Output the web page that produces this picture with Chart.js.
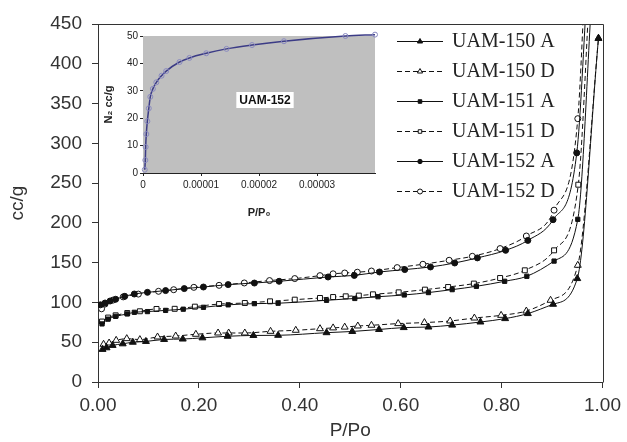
<!DOCTYPE html>
<html>
<head>
<meta charset="utf-8">
<script src="https://cdn.jsdelivr.net/npm/chart.js@4"></script>
<style>
html, body { margin: 0; padding: 0; background: #fff; }
#wrap { position: relative; width: 627px; height: 442px; }
#main { position: absolute; left: 0; top: 0; }
#inset { position: absolute; left: 100px; top: 28px; }
</style>
</head>
<body>
<div id="wrap">
  <canvas id="main" width="627" height="442"></canvas>
  <canvas id="inset" width="280" height="192"></canvas>
</div>
<script>
// isotherm data, P/Po vs cc/g
const p150A = [0.009, 0.017, 0.029, 0.049, 0.069, 0.095, 0.131, 0.168, 0.207, 0.257, 0.308, 0.357, 0.453, 0.504, 0.557, 0.606, 0.655, 0.702, 0.758, 0.807, 0.852, 0.902, 0.950, 0.992];
const v150A = [41, 43, 46, 48, 50, 51, 53.5, 54, 55.5, 57.5, 58.5, 58.7, 62, 63.5, 66, 68.4, 69.1, 71.5, 75.4, 79.7, 86, 97.7, 130, 432];

const p150D = [0.011, 0.022, 0.036, 0.057, 0.083, 0.118, 0.154, 0.194, 0.238, 0.259, 0.291, 0.342, 0.392, 0.44, 0.466, 0.489, 0.515, 0.542, 0.595, 0.647, 0.698, 0.746, 0.799, 0.849, 0.897, 0.951, 0.992];
const v150D = [47.4, 49, 52.4, 54.5, 53.3, 56.6, 57.8, 60, 61.6, 61.6, 61.6, 63.7, 65, 67, 68, 69, 70.4, 71.3, 73.4, 74.7, 76.7, 80.4, 83.8, 89.2, 102.7, 146.7, 432];

const p151A = [0.008, 0.02, 0.035, 0.058, 0.072, 0.098, 0.134, 0.169, 0.209, 0.258, 0.31, 0.357, 0.453, 0.509, 0.555, 0.607, 0.655, 0.702, 0.75, 0.806, 0.85, 0.904, 0.951, 0.98];
const v151A = [73, 79, 82.5, 85.5, 87.6, 88.5, 90, 91.5, 93.9, 97, 98.5, 99, 102.7, 105, 107.2, 109.4, 112.4, 116.1, 120.3, 126.6, 132.9, 152, 204.5, 500];

const p151D = [0.008, 0.02, 0.035, 0.058, 0.083, 0.116, 0.152, 0.192, 0.24, 0.291, 0.341, 0.39, 0.44, 0.466, 0.491, 0.517, 0.545, 0.596, 0.648, 0.694, 0.745, 0.797, 0.846, 0.904, 0.952, 0.975];
const v151D = [76, 81, 83.8, 86.7, 88.9, 91.8, 92, 94.7, 98, 99.3, 101.4, 103.5, 105.6, 106.8, 107.7, 108.6, 110.2, 112.7, 116.1, 119.4, 123.7, 130.7, 140.4, 165.5, 248, 500];

const p152A = [0.005, 0.014, 0.024, 0.035, 0.053, 0.072, 0.098, 0.134, 0.171, 0.209, 0.258, 0.31, 0.359, 0.456, 0.508, 0.558, 0.608, 0.659, 0.707, 0.752, 0.808, 0.852, 0.902, 0.949, 0.97];
const v152A = [97, 99.3, 101.8, 104, 107.7, 110.6, 112.7, 114.9, 117.4, 119.4, 122.4, 124.4, 126.6, 132, 134, 138.3, 141.3, 144.6, 149.6, 156, 165.5, 178, 204, 288, 500];

const p152D = [0.007, 0.014, 0.03, 0.05, 0.08, 0.12, 0.15, 0.19, 0.24, 0.29, 0.34, 0.39, 0.44, 0.466, 0.489, 0.514, 0.542, 0.593, 0.644, 0.696, 0.742, 0.797, 0.849, 0.904, 0.951, 0.965];
const v152D = [92, 98, 103, 107, 110.5, 114, 116, 119, 121.5, 124.5, 127.5, 130, 133.7, 136, 137, 138, 139.5, 143.8, 148, 153, 158, 167.7, 183.5, 216, 331, 500];

const seriesLabels = ['UAM-150 A', 'UAM-150 D', 'UAM-151 A', 'UAM-151 D', 'UAM-152 A', 'UAM-152 D'];
const xTicks = [0, 0.2, 0.4, 0.6, 0.8, 1.0];
const yTicks = [0, 50, 100, 150, 200, 250, 300, 350, 400, 450];

// inset: UAM-152 low pressure region
const insetP = [0.0000003, 0.0000004, 0.00000046, 0.00000057, 0.00000075, 0.000001, 0.00000126, 0.0000017, 0.0000023, 0.0000032, 0.000004, 0.0000063, 0.000008, 0.0000109, 0.0000144, 0.0000188, 0.0000243, 0.0000349, 0.00004];
const insetV = [1.2, 4.7, 9.5, 14.2, 18.9, 23.6, 27.8, 30.7, 33.1, 35.5, 37.2, 40.5, 42, 43.7, 45.3, 46.7, 48.1, 50, 50.5];
const insetXTicks = [0, 0.00001, 0.00002, 0.00003];

const sans = '"Liberation Sans", Arial, sans-serif';
const ink = '#222';

function pts(xs, ys) {
    return xs.map((x, i) => ({ x: x, y: ys[i] }));
}

function series(label, xs, ys, style, hollow, radius, legendRadius) {
    return {
        label: label,
        data: pts(xs, ys),
        borderColor: '#111',
        borderWidth: 1,
        borderDash: hollow ? [5, 3] : [],
        pointStyle: style,
        pointRadius: radius,
        pointBorderWidth: 1,
        pointBorderColor: '#111',
        pointBackgroundColor: hollow ? '#fff' : '#111',
        legendRadius: legendRadius,
        cubicInterpolationMode: 'monotone',
        fill: false,
    };
}

const legendPlugin = {
    id: 'sideLegend',
    afterDatasetsDraw(chart) {
        const ctx = chart.ctx;
        ctx.save();
        chart.data.datasets.forEach((ds, i) => {
            const y = 41 + i * 30;
            ctx.strokeStyle = '#111';
            ctx.lineWidth = 1;
            ctx.setLineDash(ds.borderDash);
            ctx.beginPath();
            ctx.moveTo(397, y + 0.5);
            ctx.lineTo(443, y + 0.5);
            ctx.stroke();
            ctx.setLineDash([]);
            ctx.fillStyle = ds.pointBackgroundColor;
            Chart.helpers.drawPoint(ctx, { pointStyle: ds.pointStyle, radius: ds.legendRadius, rotation: 0, borderWidth: 1 }, 420, y + 0.5);
            ctx.fillStyle = ink;
            ctx.font = '20px "Liberation Serif", "Times New Roman", serif';
            ctx.textBaseline = 'middle';
            ctx.fillText(ds.label, 452, y + 1);
        });
        ctx.restore();
    }
};

const framePlugin = {
    id: 'frame',
    afterDraw(chart) {
        const a = chart.chartArea;
        const ctx = chart.ctx;
        ctx.save();
        ctx.strokeStyle = '#333';
        ctx.lineWidth = 1;
        ctx.beginPath();
        ctx.moveTo(Math.round(a.left) + 0.5, Math.round(a.top) + 0.5);
        ctx.lineTo(Math.round(a.right) + 0.5, Math.round(a.top) + 0.5);
        ctx.lineTo(Math.round(a.right) + 0.5, Math.round(a.bottom) + 0.5);
        ctx.stroke();
        ctx.restore();
    }
};

new Chart(document.getElementById('main'), {
    type: 'line',
    data: {
        datasets: [
            series(seriesLabels[0], p150A, v150A, 'triangle', false, 4, 3),
            series(seriesLabels[1], p150D, v150D, 'triangle', true, 4, 3),
            series(seriesLabels[2], p151A, v151A, 'rect', false, 3, 2.5),
            series(seriesLabels[3], p151D, v151D, 'rect', true, 3.5, 2.5),
            series(seriesLabels[4], p152A, v152A, 'circle', false, 3, 2.2),
            series(seriesLabels[5], p152D, v152D, 'circle', true, 3, 2.5),
        ]
    },
    options: {
        responsive: false,
        animation: false,
        layout: { padding: { top: 24, right: 24, left: 0, bottom: 0 } },
        plugins: {
            legend: { display: false },
            tooltip: { enabled: false },
        },
        scales: {
            x: {
                type: 'linear',
                min: 0,
                max: 1,
                afterBuildTicks: (scale) => { scale.ticks = xTicks.map(v => ({ value: v })); },
                afterFit: (scale) => { scale.height = 60; },
                ticks: {
                    color: '#333',
                    font: { family: sans, size: 19 },
                    padding: 6,
                    maxRotation: 0,
                    callback: (v) => Number(v).toFixed(2),
                },
                grid: { drawOnChartArea: false, drawTicks: true, tickLength: 6, color: '#333' },
                border: { color: '#333', width: 1 },
                title: {
                    display: true,
                    text: 'P/Po',
                    color: '#333',
                    font: { family: sans, size: 19 },
                    padding: { top: 0, bottom: 0 },
                },
            },
            y: {
                min: 0,
                max: 450,
                afterBuildTicks: (scale) => { scale.ticks = yTicks.map(v => ({ value: v })); },
                afterFit: (scale) => { scale.width = 98; },
                ticks: {
                    color: '#333',
                    font: { family: sans, size: 19 },
                    padding: 10,
                },
                grid: { drawOnChartArea: false, drawTicks: true, tickLength: 6, color: '#333' },
                border: { color: '#333', width: 1 },
                title: {
                    display: true,
                    text: 'cc/g',
                    color: '#333',
                    font: { family: sans, size: 19 },
                    padding: { top: 6, bottom: 0 },
                },
            },
        },
    },
    plugins: [legendPlugin, framePlugin],
});

const insetBgPlugin = {
    id: 'insetBg',
    beforeDatasetsDraw(chart) {
        const a = chart.chartArea;
        const ctx = chart.ctx;
        ctx.save();
        ctx.fillStyle = '#bfbfbf';
        ctx.fillRect(a.left, a.top, a.right - a.left, a.bottom - a.top);
        ctx.restore();
    },
    afterDatasetsDraw(chart) {
        const ctx = chart.ctx;
        ctx.save();
        ctx.font = 'bold 12px ' + sans;
        const label = 'UAM-152';
        const w = ctx.measureText(label).width;
        const cx = 165, cy = 72;
        ctx.fillStyle = '#fff';
        ctx.fillRect(cx - w / 2 - 3, cy - 8, w + 6, 16);
        ctx.fillStyle = '#111';
        ctx.textAlign = 'center';
        ctx.textBaseline = 'middle';
        ctx.fillText(label, cx, cy + 1);
        ctx.restore();
    }
};

new Chart(document.getElementById('inset'), {
    type: 'line',
    data: {
        datasets: [{
            label: 'UAM-152',
            data: pts(insetP, insetV),
            borderColor: '#3b3b86',
            borderWidth: 1.5,
            pointStyle: 'circle',
            pointRadius: 2.5,
            pointBorderWidth: 1,
            pointBorderColor: '#8a8ac0',
            pointBackgroundColor: 'rgba(0,0,0,0)',
            cubicInterpolationMode: 'monotone',
            clip: false,
            fill: false,
        }]
    },
    options: {
        responsive: false,
        animation: false,
        layout: { padding: { top: 4, right: 5, left: 0, bottom: 0 } },
        plugins: {
            legend: { display: false },
            tooltip: { enabled: false },
        },
        scales: {
            x: {
                type: 'linear',
                min: 0,
                max: 0.00004,
                afterBuildTicks: (scale) => { scale.ticks = insetXTicks.map(v => ({ value: v })); },
                afterFit: (scale) => { scale.height = 47; },
                ticks: {
                    color: '#222',
                    font: { family: sans, size: 10 },
                    padding: 3,
                    maxRotation: 0,
                    callback: (v) => v === 0 ? '0' : Number(v).toFixed(5),
                },
                grid: { drawOnChartArea: false, drawTicks: true, tickLength: 3, color: '#222' },
                border: { color: '#222', width: 1 },
                title: {
                    display: true,
                    text: 'P/P₀',
                    color: '#222',
                    font: { family: sans, size: 11, weight: 'bold' },
                    padding: { top: 2, bottom: 0 },
                },
            },
            y: {
                min: 0,
                max: 50,
                ticks: {
                    stepSize: 10,
                    color: '#222',
                    font: { family: sans, size: 10 },
                    padding: 2,
                },
                afterFit: (scale) => { scale.width = 43; },
                grid: { drawOnChartArea: false, drawTicks: true, tickLength: 3, color: '#222' },
                border: { color: '#222', width: 1 },
                title: {
                    display: true,
                    text: 'N₂ cc/g',
                    color: '#222',
                    font: { family: sans, size: 11, weight: 'bold' },
                    padding: { top: 2, bottom: 0 },
                },
            },
        },
    },
    plugins: [insetBgPlugin],
});
</script>
</body>
</html>
